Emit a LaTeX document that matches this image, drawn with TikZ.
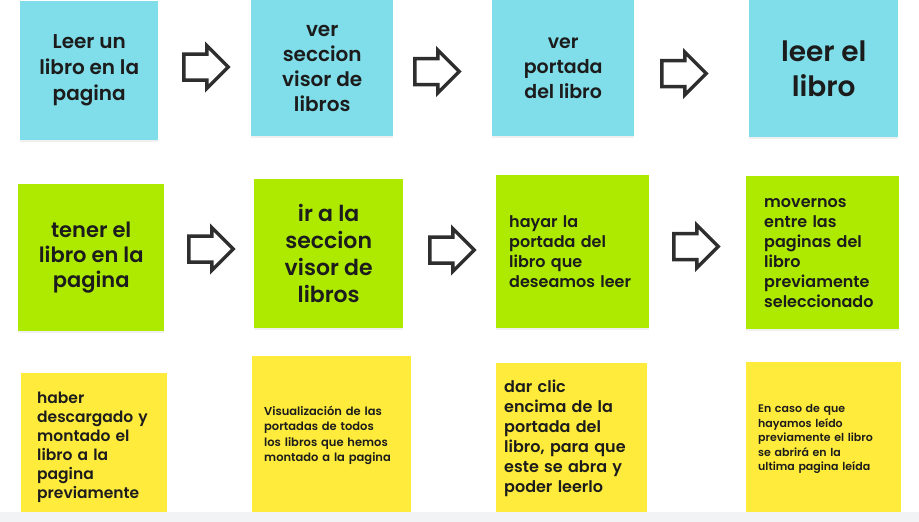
\documentclass[tikz,border=0pt]{standalone}
\usepackage{fontspec}
\IfFontExistsTF{Poppins SemiBold}
    {\setmainfont{Poppins}[BoldFont={Poppins SemiBold}]}
    {\setmainfont{Poppins}}
\usetikzlibrary{shapes.arrows,shadows}
\definecolor{notecyan}{HTML}{80DEEA}
\definecolor{notelime}{HTML}{AEEA00}
\definecolor{noteyellow}{HTML}{FFEB3B}
\definecolor{inkdark}{HTML}{1C1C1C}
\definecolor{arrowdark}{HTML}{2E2E2E}
\definecolor{stripgrey}{HTML}{F1F3F4}
\tikzset{
    note/.style={anchor=north west, inner sep=0pt, text=inkdark,
        drop shadow={shadow xshift=0pt, shadow yshift=-1.5pt, opacity=0.12}},
    fs/.style 2 args={font=\bfseries\fontsize{#1}{#2}\selectfont},
    centernote/.style={note, align=center},
    leftnote/.style={note, align=left},
    flowarrow/.style={single arrow, anchor=tail, draw=arrowdark, fill=white, line width=3.5pt,
        inner xsep=0pt, inner ysep=11.25pt, minimum height=44.5pt,
        single arrow head extend=8.5pt, single arrow tip angle=90, line join=miter}
}

\begin{document}
\begin{tikzpicture}[x=1pt, y=-1pt]
    \useasboundingbox (0,0) rectangle (919,522);
    % first row
    \node[centernote, fill=notecyan, fs={20}{26}, minimum width=138pt, minimum height=139pt] (c1) at (20,1) {Leer un\\libro en la\\pagina};
    \node[centernote, fill=notecyan, fs={20}{25}, minimum width=142pt, minimum height=136pt] (c2) at (251,0) {ver\\seccion\\visor de\\libros};
    \node[centernote, fill=notecyan, fs={19}{25}, minimum width=142pt, minimum height=136pt] (c3) at (492,0) {ver\\portada\\del libro};
    \node[centernote, fill=notecyan, fs={28}{35}, minimum width=149pt, minimum height=137pt] (c4) at (749,0) {leer el\\libro};
    \node[flowarrow] (a1) at (182,67) {};
    \node[flowarrow] (a2) at (413,71.5) {};
    \node[flowarrow] (a3) at (660,73.5) {};
    % second row
    \node[centernote, fill=notelime, fs={21}{25}, minimum width=146pt, minimum height=147pt] (g1) at (18,184) {tener el\\libro en la\\pagina};
    \node[centernote, fill=notelime, fs={22}{27}, minimum width=149pt, minimum height=149pt] (g2) at (254,179) {ir a la\\seccion\\visor de\\libros};
    \node[leftnote, fill=notelime, fs={16}{20}, minimum width=153pt, minimum height=153pt, text width=127pt] (g3) at (496,175) {hayar la\\portada del\\libro que\\deseamos leer};
    \node[leftnote, fill=notelime, fs={16}{20}, minimum width=153pt, minimum height=153pt, text width=117pt] (g4) at (746,176) {movernos\\entre las\\paginas del\\libro\\previamente\\seleccionado};
    \node[flowarrow] (b1) at (187,249) {};
    \node[flowarrow] (b2) at (428,250) {};
    \node[flowarrow] (b3) at (672,246.5) {};
    % third row, cut by the strip below
    \node[leftnote, fill=noteyellow, fs={15.5}{19}, minimum width=146pt, minimum height=149pt, text width=114pt] (y1) at (21,373) {haber\\descargado y\\montado el\\libro a la\\pagina\\previamente};
    \node[leftnote, fill=noteyellow, fs={11.5}{15.5}, minimum width=159pt, minimum height=158pt, text width=135pt] (y2) at (252,356) {Visualización de las\\portadas de todos\\los libros que hemos\\montado a la pagina};
    \node[leftnote, fill=noteyellow, fs={16}{20}, minimum width=151pt, minimum height=150pt, text width=135pt] (y3) at (496,363) {dar clic\\encima de la\\portada del\\libro, para que\\este se abra y\\poder leerlo};
    \node[leftnote, fill=noteyellow, fs={11}{14.5}, minimum width=155pt, minimum height=154pt, text width=131pt] (y4) at (746,362) {En caso de que\\hayamos leído\\previamente el libro\\se abrirá en la\\ultima pagina leída};
    \fill[stripgrey] (0,512) rectangle (919,522);
\end{tikzpicture}
\end{document}
